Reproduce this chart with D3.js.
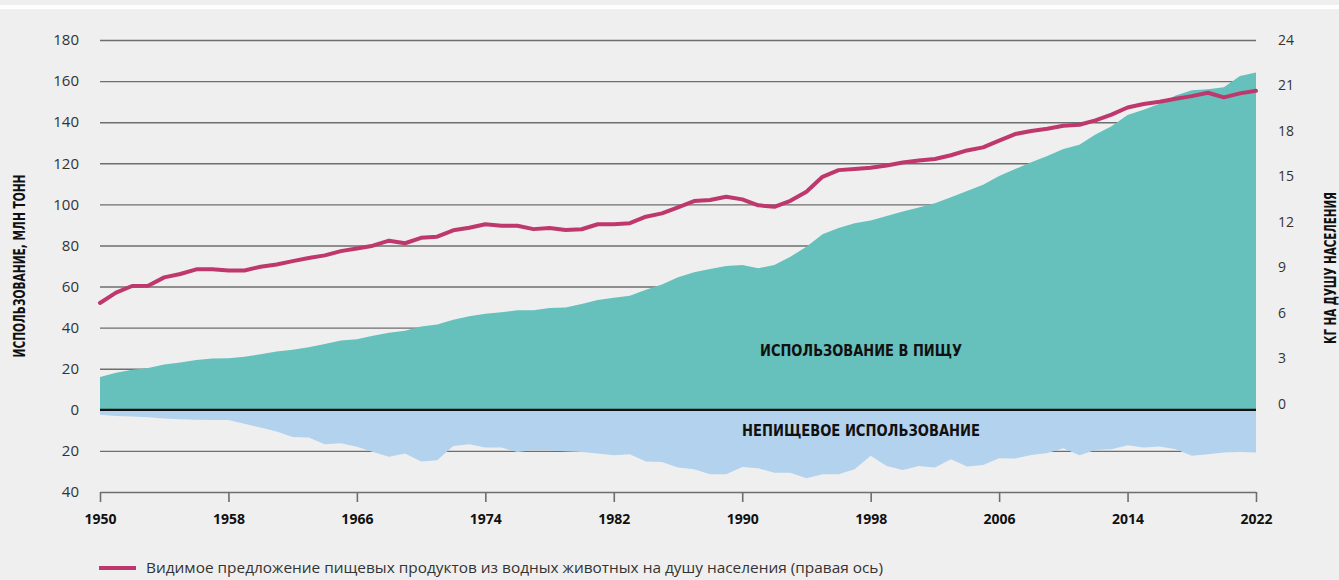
<!DOCTYPE html>
<html><head><meta charset="utf-8">
<script src="https://cdn.jsdelivr.net/npm/d3@7"></script>
<style>
html,body{margin:0;padding:0;background:#efefef;}
svg{display:block;}
</style></head>
<body>
<svg id="chart" width="1339" height="580"></svg>
<script>
const years = d3.range(1950, 2023);
const foodUse = [16,18,19.5,20.3,22,23,24.3,25,25.1,25.8,27,28.4,29.2,30.5,32,33.7,34.4,36,37.5,38.5,
  40.5,41.5,43.8,45.5,46.8,47.5,48.5,48.5,49.5,49.8,51.5,53.5,54.5,55.5,58.4,61,64.5,67,68.5,70,
  70.5,68.9,70.5,74.5,79.4,85.5,88.5,90.8,92.1,94.3,96.5,98.5,100.5,103.5,106.5,109.5,113.8,117.2,120.5,123.5,
  127,129,134,138,143.5,146,149,153,155.6,156,157,162.5,164.2];
const nonFoodUse = [2.4,3,3.3,3.6,4.2,4.6,4.8,5,5,6.8,8.6,10.5,13.2,13.5,16.7,16.3,18,20.5,22.8,21.3,
  25.2,24.6,17.6,16.7,18.4,18.4,20.5,19.5,19.8,20.2,20.5,21.3,22.1,21.6,25.2,25.4,28.1,28.9,31.4,31.4,
  27.8,28.5,30.6,30.6,33.3,31.4,31.4,28.9,22.4,27.3,29.3,27.3,28.1,24.1,27.6,26.8,23.6,23.7,22,21,
  18.7,22.1,19.5,19.2,17.2,18.4,17.9,19.2,22.4,21.6,20.8,20.5,20.8];
const perCapita = [6.66,7.34,7.78,7.8,8.35,8.57,8.88,8.88,8.8,8.8,9.05,9.2,9.42,9.63,9.8,10.08,10.25,10.44,10.77,10.6,
  10.96,11.03,11.45,11.62,11.85,11.76,11.75,11.53,11.6,11.47,11.52,11.85,11.85,11.92,12.35,12.57,12.97,13.38,13.45,13.67,
  13.49,13.1,13.0,13.4,14.0,14.98,15.42,15.5,15.58,15.73,15.92,16.06,16.15,16.4,16.72,16.92,17.36,17.8,18.0,18.15,
  18.35,18.41,18.7,19.08,19.55,19.78,19.93,20.13,20.3,20.52,20.22,20.48,20.65];
const xTickYears = [1950,1958,1966,1974,1982,1990,1998,2006,2014,2022];
const leftTicks = [-40,-20,0,20,40,60,80,100,120,140,160,180];
const rightTicks = [0,3,6,9,12,15,18,21,24];
const leftTitle = "ИСПОЛЬЗОВАНИЕ, МЛН ТОНН";
const rightTitle = "КГ НА ДУШУ НАСЕЛЕНИЯ";
const foodLabel = "ИСПОЛЬЗОВАНИЕ В ПИЩУ";
const nonFoodLabel = "НЕПИЩЕВОЕ ИСПОЛЬЗОВАНИЕ";
const legendLabel = "Видимое предложение пищевых продуктов из водных животных на душу населения (правая ось)";

const svg = d3.select("#chart");
const font = "'Open Sans', 'Noto Sans', sans-serif";
const condFont = "'DejaVu Sans Condensed', 'Liberation Sans Narrow', 'Roboto', sans-serif";

svg.append("rect").attr("x",0).attr("y",5).attr("width",1339).attr("height",4).attr("fill","#ffffff");

const x = d3.scaleLinear().domain([1950, 2022]).range([100, 1256]);
const yL = d3.scaleLinear().domain([-40, 180]).range([492, 40]);
const yR = d3.scaleLinear().domain([0, 24]).range([404, 40]);

// left axis with gridlines
const gL = svg.append("g").attr("transform", "translate(100,0)")
  .call(d3.axisLeft(yL).tickValues(leftTicks.filter(v => v > -40)).tickSize(-1156).tickPadding(21)
    .tickFormat(d => Math.abs(d)));
gL.select(".domain").remove();
gL.selectAll(".tick line").attr("stroke", "#6e6e6e").attr("stroke-width", 1.4);
gL.selectAll(".tick text").attr("font-family", font).attr("font-size", 15).attr("fill", "#333");
// bottom label "40"
svg.append("text").attr("x", 79).attr("y", yL(-40)).attr("dy", "0.32em").attr("text-anchor", "end")
  .attr("font-family", font).attr("font-size", 15).attr("fill", "#333").text(Math.abs(leftTicks[0]));

// areas
const data = years.map((yr, i) => ({yr, food: foodUse[i], nonfood: nonFoodUse[i], pc: perCapita[i]}));
svg.append("path").datum(data)
  .attr("d", d3.area().x(d => x(d.yr)).y0(yL(0)).y1(d => yL(d.food)))
  .attr("fill", "#66c0bc");
svg.append("path").datum(data)
  .attr("d", d3.area().x(d => x(d.yr)).y0(yL(0)).y1(d => yL(-d.nonfood)))
  .attr("fill", "#b2d2ed");

// zero line
svg.append("line").attr("x1", 100).attr("x2", 1256).attr("y1", yL(0)).attr("y2", yL(0))
  .attr("stroke", "#111").attr("stroke-width", 2.2);

// x axis
const gX = svg.append("g").attr("transform", `translate(0,${yL(-40)})`)
  .call(d3.axisBottom(x).tickValues(xTickYears).tickSize(10).tickSizeOuter(0).tickPadding(12).tickFormat(d3.format("d")));
gX.select(".domain").attr("stroke", "#6e6e6e").attr("stroke-width", 1.6);
gX.selectAll(".tick line").attr("stroke", "#6e6e6e").attr("stroke-width", 1.6);
gX.selectAll(".tick text").attr("font-family", font).attr("font-size", 14).attr("font-weight", "bold").attr("fill", "#111");

// right axis
const gR = svg.append("g").attr("transform", "translate(1256,0)")
  .call(d3.axisRight(yR).tickValues(rightTicks).tickSize(0).tickPadding(22));
gR.select(".domain").remove();
gR.selectAll(".tick text").attr("font-family", font).attr("font-size", 14).attr("fill", "#333");

// per-capita line
svg.append("path").datum(data)
  .attr("d", d3.line().x(d => x(d.yr)).y(d => yR(d.pc)))
  .attr("fill", "none").attr("stroke", "#bf386d").attr("stroke-width", 4)
  .attr("stroke-linejoin", "round").attr("stroke-linecap", "round");

// area labels
svg.append("text").attr("x", 861).attr("y", 351).attr("dy", "0.35em").attr("text-anchor", "middle")
  .attr("font-family", condFont).attr("font-weight", "bold").attr("font-size", 15).attr("fill", "#111")
  .attr("textLength", 202).attr("lengthAdjust", "spacingAndGlyphs").text(foodLabel);
svg.append("text").attr("x", 861).attr("y", 431).attr("dy", "0.35em").attr("text-anchor", "middle")
  .attr("font-family", condFont).attr("font-weight", "bold").attr("font-size", 15).attr("fill", "#111")
  .attr("textLength", 238).attr("lengthAdjust", "spacingAndGlyphs").text(nonFoodLabel);

// axis titles
svg.append("text").attr("transform", "translate(20,266) rotate(-90)").attr("text-anchor", "middle").attr("dy", "0.35em")
  .attr("font-family", condFont).attr("font-weight", "bold").attr("font-size", 15).attr("fill", "#111")
  .attr("textLength", 183).attr("lengthAdjust", "spacingAndGlyphs").text(leftTitle);
svg.append("text").attr("transform", "translate(1331,268) rotate(-90)").attr("text-anchor", "middle").attr("dy", "0.35em")
  .attr("font-family", condFont).attr("font-weight", "bold").attr("font-size", 15).attr("fill", "#111")
  .attr("textLength", 152).attr("lengthAdjust", "spacingAndGlyphs").text(rightTitle);

// legend
svg.append("line").attr("x1", 99).attr("x2", 136).attr("y1", 568).attr("y2", 568)
  .attr("stroke", "#bf386d").attr("stroke-width", 4);
svg.append("text").attr("x", 146).attr("y", 568).attr("dy", "0.35em")
  .attr("font-family", font).attr("font-size", 15).attr("fill", "#333")
  .attr("textLength", 737).attr("lengthAdjust", "spacingAndGlyphs").text(legendLabel);
</script>
</body></html>
